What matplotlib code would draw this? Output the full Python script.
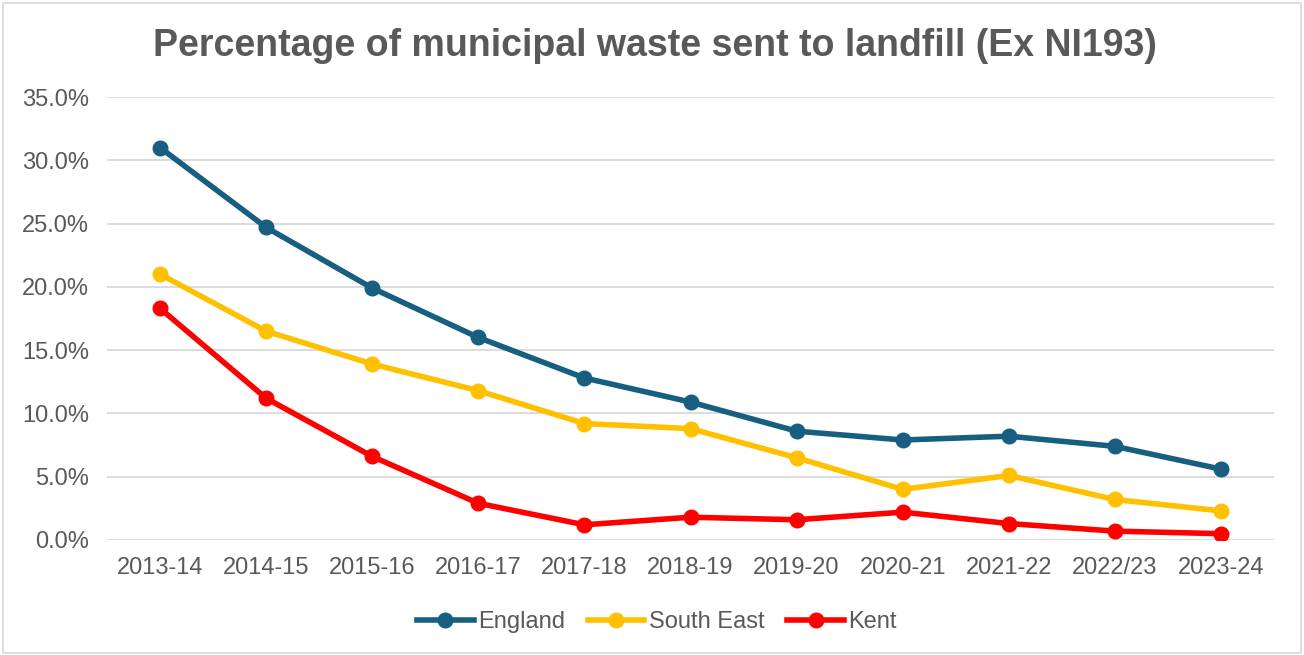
import matplotlib.pyplot as plt
from matplotlib.ticker import FuncFormatter
from matplotlib.patches import Rectangle

plt.rcParams['font.family'] = ['Liberation Sans', 'DejaVu Sans']

years = ["2013-14", "2014-15", "2015-16", "2016-17", "2017-18", "2018-19",
         "2019-20", "2020-21", "2021-22", "2022/23", "2023-24"]
england = [31.0, 24.7, 19.9, 16.0, 12.8, 10.9, 8.6, 7.9, 8.2, 7.4, 5.6]
south_east = [21.0, 16.5, 13.9, 11.8, 9.2, 8.8, 6.5, 4.0, 5.1, 3.2, 2.3]
kent = [18.3, 11.2, 6.6, 2.9, 1.2, 1.8, 1.6, 2.2, 1.3, 0.7, 0.5]

grey = "#595959"

fig = plt.figure(figsize=(13.04, 6.55), dpi=100)
ax = fig.add_axes([107 / 1304, 1 - 540 / 655, 1167 / 1304, 443 / 655])

x = range(len(years))
ax.plot(x, england, color="#175E80", lw=4, marker="o", ms=10.5, label="England")
ax.plot(x, south_east, color="#FFC000", lw=4, marker="o", ms=10.5, label="South East")
ax.plot(x, kent, color="#FF0000", lw=4, marker="o", ms=10.5, label="Kent")

ax.set_xlim(-0.5, len(years) - 0.5)
ax.set_ylim(0, 35)
ax.set_yticks([0, 5, 10, 15, 20, 25, 30, 35])
ax.yaxis.set_major_formatter(FuncFormatter(lambda v, p: f"{v:.1f}%"))
ax.set_xticks(list(x))
ax.set_xticklabels(years)
ax.tick_params(axis="both", length=0, labelsize=17, colors=grey)
ax.tick_params(axis="x", pad=12)
ax.tick_params(axis="y", pad=13)
ax.grid(axis="y", color="#D9D9D9", lw=1.3)
ax.set_axisbelow(True)
for s in ax.spines.values():
    s.set_visible(False)

fig.text(655 / 1304, 1 - 46 / 655, "Percentage of municipal waste sent to landfill (Ex NI193)",
         ha="center", va="center", fontsize=27, fontweight="bold", color=grey)

fig.legend(loc="center", bbox_to_anchor=(657 / 1304, 1 - 622 / 655), ncol=3, frameon=False,
           fontsize=17, labelcolor=grey, handlelength=2.4, handletextpad=0.2,
           columnspacing=0.95)

fig.patches.append(Rectangle((3 / 1304, 2 / 655), 1298 / 1304, 650 / 655,
                             transform=fig.transFigure, fill=False, ec="#D9D9D9", lw=1.2))

fig.savefig("out.png", dpi=100)
